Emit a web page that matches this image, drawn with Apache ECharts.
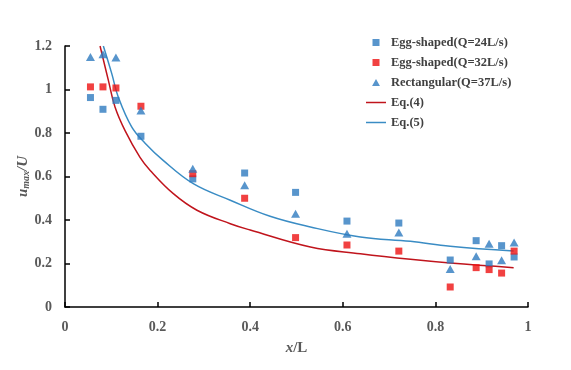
<!DOCTYPE html>
<html>
<head>
<meta charset="utf-8">
<script src="https://cdn.jsdelivr.net/npm/echarts@6/dist/echarts.min.js"></script>
<style>html,body{margin:0;padding:0;background:#fff}#c{width:571px;height:370px}</style>
</head>
<body>
<div id="c"></div>
<script>
var xPos = [0.055,0.082,0.110,0.164,0.276,0.388,0.498,0.609,0.721,0.832,0.888,0.916,0.943,0.970];
var egg24 = [0.963,0.909,0.950,0.785,0.589,0.616,0.527,0.395,0.386,0.216,0.305,0.198,0.282,0.230];
var egg32 = [1.012,1.012,1.007,0.923,0.613,0.500,0.319,0.285,0.257,0.092,0.181,0.172,0.156,0.257];
var rect37 = [1.149,1.162,1.147,0.904,0.636,0.560,0.429,0.337,0.343,0.175,0.233,0.291,0.215,0.297];

var eq4X = [0.0757,0.0937,0.108,0.130,0.162,0.184,0.234,0.285,0.357,0.400,0.530,0.638,0.746,0.832,0.969];
var eq4Y = [1.200,1.042,0.920,0.810,0.688,0.628,0.521,0.445,0.383,0.354,0.276,0.245,0.219,0.202,0.181];
var eq5X = [0.0828,0.101,0.115,0.144,0.173,0.212,0.277,0.357,0.443,0.530,0.638,0.746,0.832,0.969];
var eq5Y = [1.200,1.073,0.966,0.828,0.753,0.674,0.567,0.491,0.417,0.368,0.322,0.302,0.279,0.257];

var xTicks = [0,0.2,0.4,0.6,0.8,1];
var yTicks = [0,0.2,0.4,0.6,0.8,1,1.2];
var names = ['Egg-shaped(Q=24L/s)','Egg-shaped(Q=32L/s)','Rectangular(Q=37L/s)','Eq.(4)','Eq.(5)'];

function pairs(xs, ys){ return xs.map(function(x,i){ return [x, ys[i]]; }); }

var BLUE = '#2E7BBF', RED = '#EE1111', LRED = '#C0141C', LBLUE = '#3A8CC4';
var tickFont = {fontFamily:'Liberation Serif', fontWeight:'bold', fontSize:14, color:'#595959'};
var SQ = 'path://M0,0H7V7H0Z';
var TRI = 'path://M4.5,0L9,8H0Z';
var LN = 'path://M0,0H20V1.5H0Z';

var chart = echarts.init(document.getElementById('c'), null, {renderer:'canvas'});
chart.setOption({
  animation:false,
  backgroundColor:'#fff',
  grid:{left:65, right:43, top:46, bottom:63},
  legend:{
    orient:'vertical', left:361, top:31, itemWidth:20, itemHeight:7, itemGap:7,
    textStyle:{fontFamily:'Liberation Serif', fontWeight:'bold', fontSize:12.5, color:'#404040'},
    data:[
      {name:names[0], icon:SQ},
      {name:names[1], icon:SQ},
      {name:names[2], icon:TRI},
      {name:names[3], icon:LN},
      {name:names[4], icon:LN}
    ]
  },
  xAxis:{
    type:'value', min:0, max:1, interval:0.2,
    name:'{i|x}{n|/L}', nameLocation:'middle', nameGap:34,
    nameTextStyle:{rich:{i:{fontFamily:'Liberation Serif',fontStyle:'italic',fontWeight:'bold',fontSize:15,color:'#595959'},n:{fontFamily:'Liberation Serif',fontWeight:'bold',fontSize:15,color:'#595959'}}},
    axisLine:{show:true, lineStyle:{color:'#000', width:1.5}},
    axisTick:{show:true, inside:true, length:5, lineStyle:{color:'#000', width:1.5}},
    axisLabel:Object.assign({margin:13, formatter:function(v){return String(+v.toFixed(1));}}, tickFont),
    splitLine:{show:false}
  },
  yAxis:{
    type:'value', min:0, max:1.2, interval:0.2,
    name:'{i|u}{s|max}{i|/U}', nameLocation:'middle', nameGap:34, nameRotate:90, nameMoveOverlap:false,
    nameTextStyle:{rich:{i:{fontFamily:'Liberation Serif',fontStyle:'italic',fontWeight:'bold',fontSize:15,color:'#595959'},s:{fontFamily:'Liberation Serif',fontStyle:'italic',fontWeight:'bold',fontSize:10,color:'#595959',verticalAlign:'bottom',padding:[6,0,0,0]}}},
    axisLine:{show:true, lineStyle:{color:'#000', width:1.5}},
    axisTick:{show:true, inside:true, length:5, lineStyle:{color:'#000', width:1.5}},
    axisLabel:Object.assign({margin:13, formatter:function(v){return String(+v.toFixed(1));}}, tickFont),
    splitLine:{show:false}
  },
  series:[
    {name:names[3], type:'line', data:pairs(eq4X,eq4Y), smooth:0.4, symbol:'none', z:1,
     lineStyle:{color:LRED, width:1.5}, itemStyle:{color:LRED}},
    {name:names[4], type:'line', data:pairs(eq5X,eq5Y), smooth:0.4, symbol:'none', z:1,
     lineStyle:{color:LBLUE, width:1.5}, itemStyle:{color:LBLUE}},
    {name:names[0], type:'scatter', data:pairs(xPos,egg24), symbol:'rect', symbolSize:7, z:3,
     itemStyle:{color:BLUE}},
    {name:names[1], type:'scatter', data:pairs(xPos,egg32), symbol:'rect', symbolSize:7, z:4,
     itemStyle:{color:RED}},
    {name:names[2], type:'scatter', data:pairs(xPos,rect37), symbol:'triangle', symbolSize:[9,8], z:5,
     itemStyle:{color:BLUE}}
  ]
});
</script>
</body>
</html>
